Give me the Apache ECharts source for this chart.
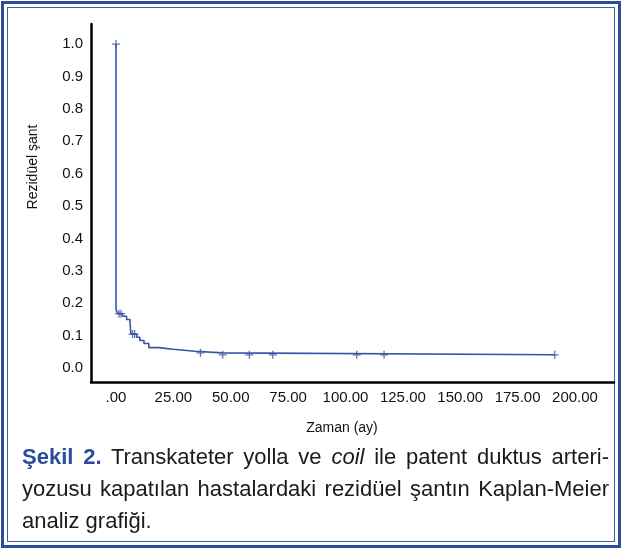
<!DOCTYPE html>
<html>
<head>
<meta charset="utf-8">
<script src="https://cdn.jsdelivr.net/npm/echarts@6/dist/echarts.min.js"></script>
<style>
  body { margin: 0; width: 623px; height: 550px; position: relative; background: #fff; overflow: hidden;
         font-family: "Liberation Sans", Arial, sans-serif; }
  .frame-out { position: absolute; left: 1px; top: 1px; width: 614px; height: 541px; border: 3px solid #2f4c9b; }
  .frame-in { position: absolute; left: 3px; top: 3px; right: 3px; bottom: 3px; border: 1.5px solid #3d5cab; }
  #chart { position: absolute; left: 0; top: 0; width: 623px; height: 550px; }
  .caption { position: absolute; left: 22px; top: 441px; width: 587px; font-size: 22px; line-height: 32px; color: #1a1a1a; }
  .caption .j { text-align: justify; text-align-last: justify; }
  .caption b { color: #2c4d9c; }
</style>
</head>
<body>
<div class="frame-out"><div class="frame-in"></div></div>
<div id="chart"></div>
<div class="caption">
  <div class="j"><b>Şekil 2.</b> Transkateter yolla ve <i>coil</i> ile patent duktus arteri-</div>
  <div class="j">yozusu kapatılan hastalardaki rezidüel şantın Kaplan-Meier</div>
  <div>analiz grafiği.</div>
</div>
<script>
  // Kaplan-Meier step curve (time in months, survival fraction)
  const kmTimes = [0, 0, 0.8, 2.9, 4.6, 6.1, 6.5, 9.0, 10.4, 12.2, 14.3, 18.7, 24.9, 34.3, 46.5, 191.2];
  const kmSurvival = [1.0, 0.18, 0.168, 0.160, 0.150, 0.140, 0.105, 0.095, 0.085, 0.076, 0.063, 0.058, 0.052, 0.047, 0.041, 0.041];

  // censored observations
  const censorTimes = [0, 1.3, 2.2, 7.2, 8.1, 36.8, 46.5, 58.1, 68.3, 104.9, 116.8, 191.2];
  const censorSurvival = [1.0, 0.168, 0.168, 0.105, 0.105, 0.047, 0.041, 0.041, 0.041, 0.041, 0.041, 0.041];

  const xTicks = [0, 25, 50, 75, 100, 125, 150, 175, 200];
  const yTicks = [0, 0.1, 0.2, 0.3, 0.4, 0.5, 0.6, 0.7, 0.8, 0.9, 1.0];

  const lineColor = "#3a54a4";
  const font = "Liberation Sans";

  const chart = echarts.init(document.getElementById("chart"), null, { renderer: "canvas" });

  const option = {
    animation: false,
    grid: { left: 91, top: 24, right: 9, bottom: 168, containLabel: false },
    xAxis: {
      type: "value",
      min: -10.9,
      max: 217,
      splitLine: { show: false },
      axisTick: { show: false },
      axisLine: { show: true, onZero: false, lineStyle: { color: "#000", width: 2.5 } },
      axisLabel: {
        customValues: xTicks,
        margin: 8,
        color: "#111",
        fontFamily: font,
        fontSize: 15,
        formatter: (v) => (v === 0 ? ".00" : v.toFixed(2)),
      },
    },
    yAxis: {
      type: "value",
      min: -0.043,
      max: 1.062,
      splitLine: { show: false },
      axisTick: { show: false },
      axisLine: { show: true, onZero: false, lineStyle: { color: "#000", width: 2.5 } },
      axisLabel: {
        customValues: yTicks,
        margin: 8,
        color: "#111",
        fontFamily: font,
        fontSize: 15,
        formatter: (v) => v.toFixed(1),
      },
    },
    graphic: [
      {
        type: "text",
        x: 33,
        y: 167,
        rotation: Math.PI / 2,
        style: { text: "Rezidüel şant", font: "14px " + font, fill: "#111", align: "center", verticalAlign: "middle" },
      },
      {
        type: "text",
        x: 342,
        y: 428,
        style: { text: "Zaman (ay)", font: "14px " + font, fill: "#111", align: "center", verticalAlign: "middle" },
      },
    ],
    series: [
      {
        name: "Rezidüel şant",
        type: "line",
        step: "end",
        showSymbol: false,
        data: kmTimes.map((t, i) => [t, kmSurvival[i]]),
        lineStyle: { color: lineColor, width: 1.6 },
      },
      {
        name: "Sansürlü",
        type: "scatter",
        symbol: "path://M0,5L10,5M5,0L5,10",
        symbolSize: 8,
        data: censorTimes.map((t, i) => [t, censorSurvival[i]]),
        itemStyle: { color: "none", borderColor: lineColor, borderWidth: 1.3 },
      },
    ],
  };

  chart.setOption(option);
  window.addEventListener("resize", () => chart.resize());
</script>
</body>
</html>
